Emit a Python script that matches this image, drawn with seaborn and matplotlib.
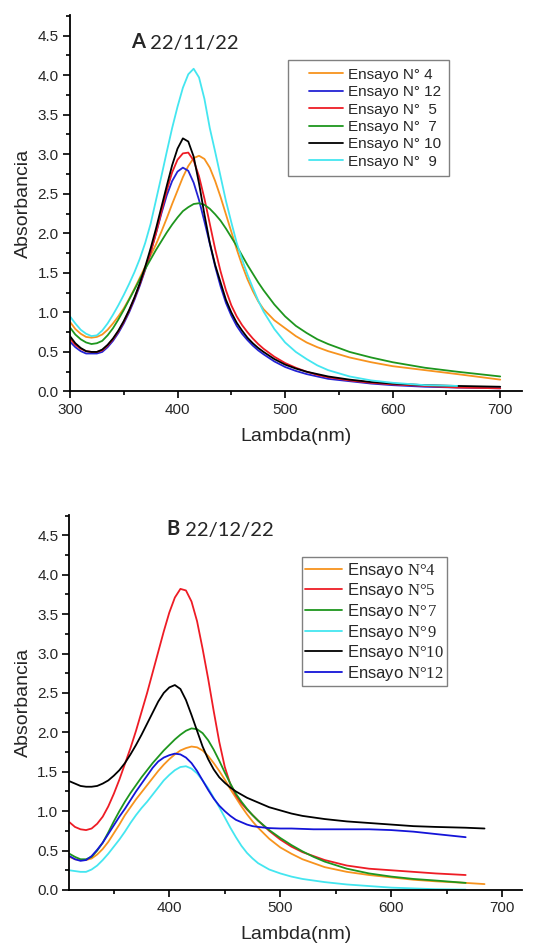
import numpy as np
import pandas as pd
import matplotlib
matplotlib.use("Agg")
import matplotlib.pyplot as plt
import seaborn as sns
from matplotlib.ticker import MultipleLocator, FormatStrFormatter
from matplotlib.lines import Line2D
from matplotlib.legend_handler import HandlerLine2D

nan = np.nan

# Panel A - 22/11/22
lambda_a = [300, 305, 310, 315, 320, 325, 330, 335, 340, 345, 350, 355, 360, 365, 370, 375, 380,
            385, 390, 395, 400, 405, 410, 415, 420, 425, 430, 435, 440, 445, 450, 455, 460, 465,
            470, 475, 480, 490, 500, 510, 520, 530, 540, 560, 580, 600, 630, 660, 700]
a_n4 = [0.88, 0.79, 0.73, 0.69, 0.68, 0.69, 0.72, 0.78, 0.86, 0.95, 1.05, 1.17, 1.30, 1.44, 1.58, 1.72, 1.86,
        2.02, 2.19, 2.37, 2.54, 2.71, 2.85, 2.95, 2.98, 2.94, 2.83, 2.66, 2.46, 2.24, 2.02, 1.80, 1.60, 1.42,
        1.27, 1.14, 1.04, 0.90, 0.80, 0.70, 0.62, 0.56, 0.51, 0.43, 0.37, 0.32, 0.27, 0.22, 0.15]
a_n12 = [0.63, 0.56, 0.51, 0.48, 0.48, 0.48, 0.50, 0.56, 0.64, 0.74, 0.86, 1.00, 1.16, 1.34, 1.54, 1.76, 2.00,
         2.25, 2.48, 2.66, 2.78, 2.83, 2.79, 2.64, 2.42, 2.15, 1.87, 1.58, 1.33, 1.12, 0.96, 0.83, 0.73, 0.65,
         0.58, 0.52, 0.47, 0.38, 0.31, 0.26, 0.22, 0.19, 0.16, 0.13, 0.10, 0.08, 0.06, 0.05, 0.04]
a_n5 = [0.67, 0.59, 0.54, 0.51, 0.50, 0.50, 0.52, 0.58, 0.66, 0.76, 0.88, 1.02, 1.18, 1.36, 1.55, 1.76, 2.00,
        2.27, 2.54, 2.77, 2.93, 3.01, 3.02, 2.92, 2.72, 2.44, 2.12, 1.80, 1.52, 1.28, 1.09, 0.95, 0.84, 0.75,
        0.67, 0.60, 0.54, 0.44, 0.36, 0.30, 0.25, 0.21, 0.18, 0.14, 0.11, 0.09, 0.07, 0.05, 0.04]
a_n7 = [0.81, 0.72, 0.66, 0.62, 0.60, 0.61, 0.64, 0.71, 0.80, 0.91, 1.03, 1.16, 1.29, 1.42, 1.55, 1.67, 1.79,
        1.90, 2.01, 2.11, 2.20, 2.28, 2.33, 2.37, 2.38, 2.36, 2.31, 2.24, 2.16, 2.06, 1.95, 1.84, 1.72, 1.60,
        1.49, 1.38, 1.28, 1.10, 0.95, 0.83, 0.74, 0.66, 0.60, 0.50, 0.43, 0.37, 0.30, 0.25, 0.19]
a_n10 = [0.70, 0.61, 0.55, 0.51, 0.50, 0.50, 0.53, 0.59, 0.67, 0.77, 0.89, 1.03, 1.19, 1.37, 1.58, 1.81, 2.06,
         2.33, 2.60, 2.86, 3.07, 3.20, 3.16, 2.97, 2.63, 2.24, 1.88, 1.60, 1.38, 1.16, 1.00, 0.87, 0.77, 0.68,
         0.61, 0.55, 0.50, 0.41, 0.34, 0.29, 0.25, 0.22, 0.19, 0.15, 0.12, 0.10, 0.08, 0.07, 0.06]
a_n9 = [0.95, 0.86, 0.78, 0.73, 0.70, 0.71, 0.77, 0.86, 0.97, 1.09, 1.22, 1.36, 1.51, 1.68, 1.88, 2.12, 2.42,
        2.72, 3.03, 3.33, 3.60, 3.84, 4.01, 4.08, 3.97, 3.70, 3.33, 3.03, 2.72, 2.41, 2.14, 1.88, 1.67, 1.48,
        1.31, 1.15, 1.01, 0.79, 0.62, 0.50, 0.41, 0.33, 0.27, 0.19, 0.14, 0.11, 0.08, 0.07, nan]
labels_a = ["Ensayo N° 4", "Ensayo N° 12", "Ensayo N°  5", "Ensayo N°  7", "Ensayo N° 10", "Ensayo N°  9"]
colors_a = ["#F7931E", "#2323D4", "#EE1C25", "#1E961E", "#000000", "#44E6F0"]

# Panel B - 22/12/22
lambda_b = [310, 315, 320, 325, 330, 335, 340, 345, 350, 355, 360, 365, 370, 375, 380, 385, 390,
            395, 400, 405, 410, 415, 420, 425, 430, 435, 440, 445, 450, 455, 460, 465, 470, 475,
            480, 490, 500, 510, 520, 530, 540, 560, 580, 600, 620, 640, 667, 684]
b_n4 = [0.42, 0.39, 0.38, 0.38, 0.40, 0.45, 0.52, 0.61, 0.72, 0.83, 0.95, 1.05, 1.15, 1.24, 1.33, 1.42, 1.51,
        1.59, 1.66, 1.72, 1.77, 1.80, 1.82, 1.81, 1.77, 1.70, 1.61, 1.51, 1.40, 1.28, 1.17, 1.06, 0.96, 0.87,
        0.79, 0.65, 0.54, 0.46, 0.39, 0.34, 0.29, 0.23, 0.19, 0.16, 0.13, 0.11, 0.09, 0.075]
b_n5 = [0.86, 0.80, 0.77, 0.76, 0.78, 0.84, 0.93, 1.06, 1.22, 1.40, 1.60, 1.80, 2.02, 2.26, 2.50, 2.76, 3.02,
        3.28, 3.52, 3.71, 3.82, 3.80, 3.66, 3.41, 3.06, 2.68, 2.27, 1.88, 1.56, 1.34, 1.20, 1.10, 1.02, 0.95,
        0.88, 0.75, 0.64, 0.55, 0.48, 0.43, 0.38, 0.31, 0.27, 0.25, 0.23, 0.21, 0.19, nan]
b_n7 = [0.46, 0.42, 0.39, 0.39, 0.42, 0.50, 0.60, 0.73, 0.87, 1.00, 1.12, 1.23, 1.33, 1.43, 1.52, 1.61, 1.69,
        1.77, 1.84, 1.91, 1.97, 2.02, 2.05, 2.04, 1.99, 1.90, 1.78, 1.64, 1.49, 1.35, 1.22, 1.12, 1.03, 0.95,
        0.88, 0.76, 0.66, 0.57, 0.49, 0.42, 0.36, 0.27, 0.21, 0.17, 0.14, 0.12, 0.09, nan]
b_n9 = [0.25, 0.24, 0.23, 0.23, 0.26, 0.31, 0.38, 0.46, 0.55, 0.64, 0.74, 0.85, 0.95, 1.04, 1.12, 1.21, 1.30,
        1.39, 1.46, 1.52, 1.56, 1.57, 1.54, 1.48, 1.39, 1.29, 1.17, 1.05, 0.92, 0.79, 0.67, 0.56, 0.47, 0.40,
        0.34, 0.26, 0.21, 0.17, 0.14, 0.12, 0.10, 0.07, 0.05, 0.03, 0.02, 0.01, 0.005, nan]
b_n10 = [1.38, 1.35, 1.32, 1.31, 1.31, 1.32, 1.35, 1.39, 1.45, 1.52, 1.61, 1.72, 1.84, 1.97, 2.11, 2.25, 2.39,
         2.50, 2.57, 2.60, 2.55, 2.41, 2.22, 2.02, 1.82, 1.66, 1.53, 1.43, 1.36, 1.30, 1.25, 1.21, 1.17, 1.14,
         1.11, 1.05, 1.01, 0.97, 0.94, 0.92, 0.90, 0.87, 0.85, 0.83, 0.81, 0.80, 0.79, 0.78]
b_n12 = [0.43, 0.39, 0.37, 0.38, 0.43, 0.51, 0.60, 0.71, 0.82, 0.93, 1.03, 1.14, 1.25, 1.35, 1.45, 1.55, 1.63,
         1.68, 1.71, 1.73, 1.72, 1.68, 1.61, 1.51, 1.39, 1.27, 1.16, 1.07, 1.00, 0.94, 0.89, 0.86, 0.83, 0.81,
         0.80, 0.785, 0.78, 0.78, 0.775, 0.77, 0.77, 0.77, 0.77, 0.76, 0.74, 0.71, 0.67, nan]
labels_b = [r"Ensayo $\mathrm{N°4}$", r"Ensayo $\mathrm{N°5}$", r"Ensayo $\mathrm{N°\,7}$",
            r"Ensayo $\mathrm{N°\,9}$", r"Ensayo $\mathrm{N°10}$", r"Ensayo $\mathrm{N°12}$"]
colors_b = ["#F7931E", "#EE1C25", "#1E961E", "#44E6F0", "#000000", "#1414D8"]


def long_form(lam, series, labels):
    df = pd.DataFrame(dict(zip(labels, series)))
    df["Lambda"] = lam
    df = df.melt(id_vars="Lambda", var_name="Ensayo", value_name="Abs")
    return df.dropna()


sns.set_theme(style="ticks")
plt.rcParams["font.family"] = ["Liberation Sans", "DejaVu Sans"]
plt.rcParams["mathtext.fontset"] = "custom"
plt.rcParams["mathtext.rm"] = "Liberation Serif"
plt.rcParams["mathtext.it"] = "Liberation Serif:italic"
plt.rcParams["mathtext.bf"] = "Liberation Serif:bold"

fig = plt.figure(figsize=(5.34, 9.47), dpi=100)
ax_a = fig.add_axes([0.131, 0.5866, 0.846, 0.3976])
ax_b = fig.add_axes([0.130, 0.0602, 0.848, 0.3962])

df_a = long_form(lambda_a, [a_n4, a_n12, a_n5, a_n7, a_n10, a_n9], labels_a)
df_b = long_form(lambda_b, [b_n4, b_n5, b_n7, b_n9, b_n10, b_n12], labels_b)

sns.lineplot(data=df_a, x="Lambda", y="Abs", hue="Ensayo", hue_order=labels_a,
             palette=dict(zip(labels_a, colors_a)), linewidth=1.3, ax=ax_a)
sns.lineplot(data=df_b, x="Lambda", y="Abs", hue="Ensayo", hue_order=labels_b,
             palette=dict(zip(labels_b, colors_b)), linewidth=1.3, ax=ax_b)


def style_axes(ax, xlim, xmajor):
    ax.set_xlim(*xlim)
    ax.set_ylim(0, 4.76)
    ax.xaxis.set_minor_locator(MultipleLocator(50))
    ax.yaxis.set_major_locator(MultipleLocator(0.5))
    ax.yaxis.set_minor_locator(MultipleLocator(0.25))
    ax.yaxis.set_major_formatter(FormatStrFormatter("%.1f"))
    ax.set_xticks(xmajor)
    for s in ["top", "right"]:
        ax.spines[s].set_visible(False)
    for s in ["left", "bottom"]:
        ax.spines[s].set_linewidth(1.3)
        ax.spines[s].set_color("black")
    ax.tick_params(which="major", direction="out", length=5, width=1.2, labelsize=11, pad=3, color="black")
    ax.tick_params(which="minor", direction="out", length=3, width=1.2, color="black")
    ax.set_xlabel("Lambda(nm)", fontsize=14, labelpad=8)
    ax.set_ylabel("Absorbancia", fontsize=14, labelpad=4)


style_axes(ax_a, (300, 720), [300, 400, 500, 600, 700])
style_axes(ax_b, (310, 718), [400, 500, 600, 700])

# panel titles
for ax, x, y, letter, date in [(ax_a, 357, 4.42, "A", " 22/11/22"), (ax_b, 397.5, 4.58, "B", " 22/12/22")]:
    t = ax.text(x, y, letter, fontsize=14.5, fontweight="bold", family="Lato", ha="left", va="center")
    ax.annotate(date, xy=(1, 0), xycoords=t, fontsize=14.5, family="Lato", ha="left", va="bottom")

# legends
h, l = ax_a.get_legend_handles_labels()
leg = ax_a.legend(h, l, loc="upper left", bbox_to_anchor=(0.483, 0.880), borderaxespad=0,
                  fontsize=11, frameon=True, fancybox=False, framealpha=1, edgecolor="#808080",
                  borderpad=0.5, handlelength=3.08, handletextpad=0.33, labelspacing=0.22,
                  handler_map={Line2D: HandlerLine2D(xpad=0.86)})
leg.get_frame().set_linewidth(1.0)

h, l = ax_b.get_legend_handles_labels()
leg = ax_b.legend(h, l, loc="upper left", bbox_to_anchor=(0.513, 0.887), borderaxespad=0,
                  fontsize=12, frameon=True, fancybox=False, framealpha=1, edgecolor="#808080",
                  borderpad=0.2, handlelength=2.2, handletextpad=0.3, labelspacing=0.1)
leg.get_frame().set_linewidth(1.0)

fig.savefig("out.png", dpi=100)
